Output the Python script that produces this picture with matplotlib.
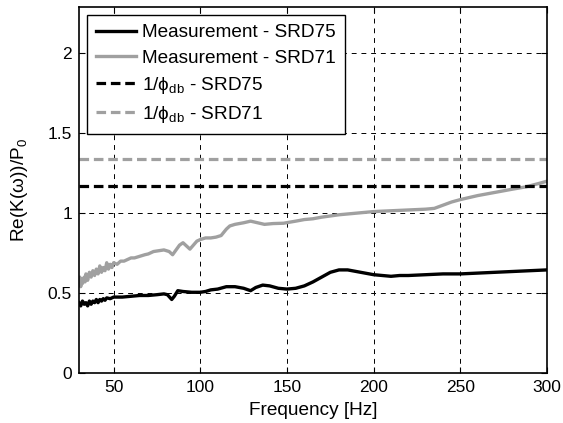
import matplotlib
matplotlib.use("Agg")
from matplotlib import pyplot as plt

plt.rcParams['font.family'] = ['Liberation Sans', 'DejaVu Sans']
plt.rcParams['mathtext.fontset'] = 'custom'
plt.rcParams['mathtext.rm'] = 'Liberation Sans'
plt.rcParams['mathtext.it'] = 'Liberation Sans:italic'

f_srd75 = [30, 31, 32, 33, 34, 35, 36, 37, 38, 39, 40, 41, 42, 43, 44, 45, 46, 48,
           50, 55, 60, 65, 70, 75, 79, 81, 83.5, 85, 87, 90, 95, 100, 103, 106, 110,
           115, 120, 125, 129, 132, 136, 140, 145, 150, 155, 160, 165, 170, 175, 180,
           185, 190, 195, 200, 205, 210, 215, 220, 230, 240, 250, 260, 270, 280, 290, 300]
k_srd75 = [0.44, 0.42, 0.45, 0.43, 0.44, 0.42, 0.45, 0.43, 0.45, 0.44, 0.46, 0.44, 0.46,
           0.45, 0.465, 0.455, 0.47, 0.465, 0.475, 0.475, 0.48, 0.485, 0.485, 0.49, 0.495,
           0.49, 0.46, 0.48, 0.515, 0.51, 0.505, 0.505, 0.51, 0.52, 0.525, 0.54, 0.54,
           0.53, 0.515, 0.535, 0.55, 0.545, 0.53, 0.525, 0.53, 0.545, 0.57, 0.6, 0.63,
           0.645, 0.645, 0.635, 0.625, 0.615, 0.61, 0.605, 0.61, 0.61, 0.615, 0.62, 0.62,
           0.625, 0.63, 0.635, 0.64, 0.645]

f_srd71 = [30, 30.5, 31, 31.5, 32, 33, 33.5, 34, 35, 36, 37, 38, 39, 40, 41, 42, 43, 44,
           45, 46, 47, 48, 49, 50, 52, 54, 56, 58, 60, 62, 65, 68, 70, 73, 76, 79, 82,
           84, 86, 88, 90, 92, 94, 96, 98, 100, 103, 106, 109, 112, 115, 117, 120, 125,
           129, 133, 137, 142, 148, 155, 160, 165, 170, 180, 190, 200, 210, 220, 230,
           235, 240, 245, 250, 260, 270, 280, 288, 295, 300]
k_srd71 = [0.55, 0.6, 0.54, 0.59, 0.56, 0.6, 0.57, 0.62, 0.58, 0.63, 0.6, 0.64, 0.61,
           0.65, 0.62, 0.67, 0.63, 0.66, 0.64, 0.69, 0.65, 0.68, 0.66, 0.69, 0.68, 0.7,
           0.7, 0.71, 0.72, 0.72, 0.73, 0.74, 0.745, 0.76, 0.765, 0.77, 0.76, 0.74, 0.77,
           0.8, 0.815, 0.795, 0.775, 0.8, 0.825, 0.835, 0.845, 0.845, 0.85, 0.86, 0.9,
           0.92, 0.93, 0.94, 0.95, 0.94, 0.93, 0.935, 0.937, 0.95, 0.96, 0.965, 0.975,
           0.99, 1.0, 1.01, 1.015, 1.02, 1.025, 1.03, 1.05, 1.07, 1.085, 1.11, 1.13,
           1.15, 1.165, 1.185, 1.2]

# 1/phi_db levels
inv_phi_srd75 = 1.17
inv_phi_srd71 = 1.34

grey = '#a0a0a0'
fs = 13.7

fig = plt.figure(figsize=(5.63, 4.23), dpi=100)
ax = fig.add_axes([0.1403, 0.1182, 0.8313, 0.8653])

ax.plot(f_srd75, k_srd75, color='black', lw=2.4, label='Measurement - SRD75')
ax.plot(f_srd71, k_srd71, color=grey, lw=2.4, label='Measurement - SRD71')
ax.axhline(inv_phi_srd75, color='black', lw=2.3, ls=(0, (3, 1.5)),
           label='1/\u03d5$_{\\rm db}$ - SRD75')
ax.axhline(inv_phi_srd71, color=grey, lw=2.3, ls=(0, (3, 1.5)),
           label='1/\u03d5$_{\\rm db}$ - SRD71')

ax.set_xlim(30, 300)
ax.set_ylim(0, 2.29)
ax.set_xticks([50, 100, 150, 200, 250, 300])
ax.set_yticks([0, 0.5, 1, 1.5, 2])
ax.set_yticklabels(['0', '0.5', '1', '1.5', '2'])
ax.grid(True, color='black', ls=(0, (5, 5)), lw=0.7)
ax.tick_params(direction='in', top=True, right=True, labelsize=12.5, length=4, pad=5)
for s in ax.spines.values():
    s.set_linewidth(1.2)

ax.set_xlabel('Frequency [Hz]', fontsize=fs, labelpad=5)
ax.set_ylabel('Re(K(\u03c9))/P$_0$', fontsize=fs, labelpad=13)

leg = ax.legend(loc='upper left', fontsize=fs, fancybox=False, framealpha=1,
                edgecolor='black', handlelength=2.1, borderaxespad=0.4,
                labelspacing=0.42, handletextpad=0.3, borderpad=0.5)
leg.get_frame().set_linewidth(1.0)

fig.savefig('out.png', dpi=100)
